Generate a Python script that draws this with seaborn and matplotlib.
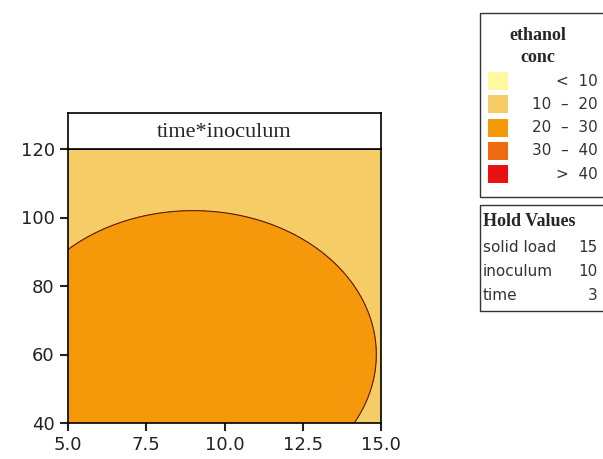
import numpy as np
import matplotlib
matplotlib.use("Agg")
import matplotlib.pyplot as plt
from matplotlib.patches import Rectangle
import seaborn as sns

# response surface (fitted quadratic) for ethanol conc over inoculum x time
inoculum = np.linspace(5, 15, 201)
time_vals = np.linspace(40, 120, 201)
centre = (9.0, 60.0)
scale = (5.85, 42.0)
peak, drop = 24.0, 4.0

levels = [-100, 10, 20, 30, 40, 100]
level_labels = ["<  10", "10  \u2013  20", "20  \u2013  30", "30  \u2013  40", ">  40"]
colours = ["#FFF8A0", "#F5CC66", "#F5990A", "#F06A12", "#E81010"]
hold_names = ["solid load", "inoculum", "time"]
hold_vals = ["15", "10", "3"]

sns.set_style("white")
fig = plt.figure(figsize=(6.03, 4.59), dpi=100)
ax = fig.add_axes([68/603, 1-423/459, 313/603, 274/459])
X, Y = np.meshgrid(inoculum, time_vals)
Z = peak - drop*(((X-centre[0])/scale[0])**2 + ((Y-centre[1])/scale[1])**2)
ax.contourf(X, Y, Z, levels=levels, colors=colours)
ax.contour(X, Y, Z, levels=[20], colors="#5a1a10", linewidths=0.8)
ax.set_xlim(5, 15)
ax.set_ylim(40, 120)
ax.set_xticks([5, 7.5, 10, 12.5, 15])
ax.set_xticklabels(["5.0", "7.5", "10.0", "12.5", "15.0"])
ax.set_yticks([40, 60, 80, 100, 120])
ax.tick_params(direction="out", length=6, width=1.5, labelsize=13, colors="#222222", left=True, bottom=True)
for s in ax.spines.values():
    s.set_linewidth(1.2)
    s.set_color("black")

tax = fig.add_axes([68/603, 1-149/459, 313/603, 36/459])
tax.set_xticks([]); tax.set_yticks([])
for s in tax.spines.values():
    s.set_linewidth(1.2)
    s.set_color("black")
tax.text(0.5, 0.45, "time*inoculum", ha="center", va="center", fontsize=16, family="Liberation Serif")

# legend panel in pixel coords
lax = fig.add_axes([0, 0, 1, 1])
lax.set_xlim(0, 603); lax.set_ylim(459, 0); lax.axis("off")
lax.add_patch(Rectangle((480, 13), 130, 184, fill=False, lw=1, ec="#333333"))
lax.add_patch(Rectangle((480, 205), 130, 106, fill=False, lw=1, ec="#333333"))
lax.text(538, 35, "ethanol", ha="center", va="center", fontsize=13, weight="bold", family="Liberation Serif")
lax.text(538, 58, "conc", ha="center", va="center", fontsize=13, weight="bold", family="Liberation Serif")
for i, (lab, c) in enumerate(zip(level_labels, colours)):
    yc = 81 + i*23.3
    lax.add_patch(Rectangle((488, yc-9), 20, 18, color=c, lw=0))
    lax.text(598, yc, lab, ha="right", va="center", fontsize=11, color="#333333")
lax.text(483, 222, "Hold Values", ha="left", va="center", fontsize=13, weight="bold", family="Liberation Serif")
for i, (n, v) in enumerate(zip(hold_names, hold_vals)):
    yc = 248 + i*24
    lax.text(483, yc, n, ha="left", va="center", fontsize=11, color="#333333")
    lax.text(598, yc, v, ha="right", va="center", fontsize=11, color="#333333")

fig.savefig("out.png", dpi=100)
